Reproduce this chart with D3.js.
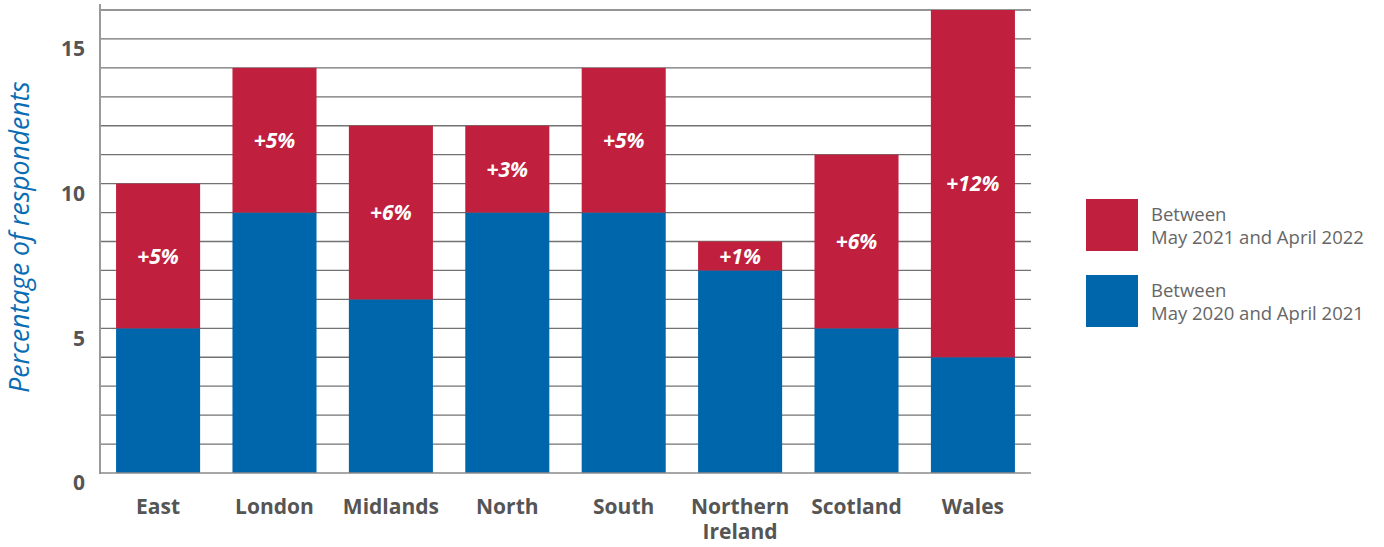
<!DOCTYPE html>
<html><head><meta charset="utf-8">
<script src="https://cdn.jsdelivr.net/npm/d3@7"></script>
<style>body{margin:0;background:#fff;} svg{display:block;font-family:"Open Sans",sans-serif;}</style>
</head><body>
<svg id="chart" width="1384" height="547"></svg>
<script>
const categories = ["East","London","Midlands","North","South","Northern Ireland","Scotland","Wales"];
const firstPeriod = [5,9,6,9,9,7,5,4];
const secondPeriod = [5,5,6,3,5,1,6,12];
const changeLabels = ["+5%","+5%","+6%","+3%","+5%","+1%","+6%","+12%"];
const yTicks = [0,5,10,15];
const seriesNames = ["Between\nMay 2021 and April 2022","Between\nMay 2020 and April 2021"];

const RED = "#c01f3e", BLUE = "#0066ac";
const svg = d3.select("#chart");
const x = d3.scaleBand().domain(categories).range([100,1031]).paddingInner(0.278).paddingOuter(0.138);
const y = d3.scaleLinear().domain([0,16]).range([473,10]);

// gridlines
svg.append("g").selectAll("line").data(d3.range(1,17)).join("line")
  .attr("x1",100).attr("x2",1031).attr("y1",d=>y(d)).attr("y2",d=>y(d))
  .attr("stroke","#727272").attr("stroke-width",1.3);

// bars
const data = categories.map((c,i)=>({c, a:firstPeriod[i], b:secondPeriod[i], lab:changeLabels[i]}));
svg.append("g").selectAll("rect").data(data).join("rect")
  .attr("x",d=>x(d.c)).attr("width",x.bandwidth())
  .attr("y",d=>y(d.a)).attr("height",d=>y(0)-y(d.a)).attr("fill",BLUE);
svg.append("g").selectAll("rect").data(data).join("rect")
  .attr("x",d=>x(d.c)).attr("width",x.bandwidth())
  .attr("y",d=>y(d.a+d.b)).attr("height",d=>y(d.a)-y(d.a+d.b)).attr("fill",RED);
svg.append("g").selectAll("text").data(data).join("text")
  .attr("x",d=>x(d.c)+x.bandwidth()/2).attr("y",d=>y(d.a+d.b/2))
  .attr("dy","0.36em").attr("text-anchor","middle")
  .attr("fill","#fff").attr("font-weight",700).attr("font-style","italic").attr("font-size",21)
  .text(d=>d.lab);

// axes lines
svg.append("line").attr("x1",100).attr("x2",100).attr("y1",4).attr("y2",474).attr("stroke","#9a9a9a").attr("stroke-width",2);
svg.append("line").attr("x1",100).attr("x2",1031).attr("y1",473).attr("y2",473).attr("stroke","#8a8a8a").attr("stroke-width",1.5);

// y tick labels
const yAxis = d3.axisLeft(y).tickValues(yTicks).tickSize(0).tickPadding(0);
const ga = svg.append("g").attr("transform","translate(85,10)").call(yAxis);
ga.select(".domain").remove();
ga.selectAll("text").attr("font-family","Open Sans").attr("font-size",21).attr("font-weight",700).attr("fill","#555");

// x labels
const gx = svg.append("g");
categories.forEach(c=>{
  const words = c === "Northern Ireland" ? ["Northern","Ireland"] : [c];
  const t = gx.append("text").attr("x",x(c)+x.bandwidth()/2).attr("y",514)
    .attr("text-anchor","middle").attr("font-size",21).attr("font-weight",700).attr("fill","#555");
  words.forEach((w,i)=>t.append("tspan").attr("x",x(c)+x.bandwidth()/2).attr("dy",i?25:0).text(w));
});

// y title
svg.append("text").attr("transform","translate(29,237) rotate(-90)").attr("text-anchor","middle")
  .attr("font-size",26.5).attr("font-style","italic").attr("fill","#0a6db3").text("Percentage of respondents");

// legend
const legColors = [RED, BLUE];
seriesNames.forEach((s,i)=>{
  const y0 = 199 + i*76;
  svg.append("rect").attr("x",1086).attr("y",y0).attr("width",52).attr("height",52).attr("fill",legColors[i]);
  const t = svg.append("text").attr("x",1151).attr("y",y0+22).attr("font-size",18.5).attr("fill","#666");
  s.split("\n").forEach((l,j)=>t.append("tspan").attr("x",1151).attr("dy",j?23:0).text(l));
});
</script>
</body></html>
